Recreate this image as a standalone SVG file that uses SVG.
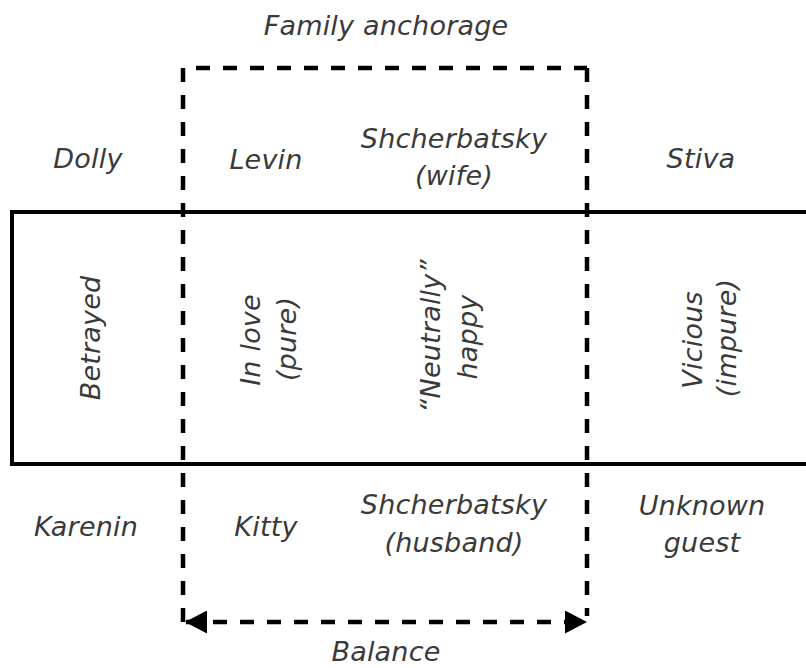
<svg xmlns="http://www.w3.org/2000/svg" width="806" height="668" viewBox="0 0 806 668">
<defs>
<style>
text{font-family:"DejaVu Sans","Liberation Sans",sans-serif;font-style:italic;font-size:27px;letter-spacing:0.2px;fill:#3a3a3a;text-anchor:middle}
.dash{fill:none;stroke:#000;stroke-width:4.5;stroke-dasharray:14 13}
.solid{fill:none;stroke:#000;stroke-width:4}
</style>
<marker id="ah" viewBox="0 0 22 23" refX="21" refY="11.5" markerWidth="22" markerHeight="23" markerUnits="userSpaceOnUse" orient="auto-start-reverse">
<path d="M0,0 L22,11.5 L0,23 Z" fill="#000"/>
</marker>
</defs>
<rect width="806" height="668" fill="#fff"/>
<g id="connectors">
<path id="band" class="solid" d="M810,212 H12 V464 H810"/>
<path id="anchorage-left" class="dash" d="M183,622 V68 H587"/>
<path id="anchorage-right" class="dash" d="M587,68 V616"/>
<line id="balance" class="dash" x1="186" y1="622" x2="586" y2="622" marker-start="url(#ah)" marker-end="url(#ah)"/>
</g>
<g id="title"><text x="386" y="35">Family anchorage</text></g>
<g id="dolly"><text x="88" y="168">Dolly</text></g>
<g id="levin"><text x="266" y="169">Levin</text></g>
<g id="shch-wife"><text x="454" y="148">Shcherbatsky</text><text x="454" y="185">(wife)</text></g>
<g id="stiva"><text x="701" y="168">Stiva</text></g>
<g id="betrayed"><text transform="translate(100,338) rotate(-90)">Betrayed</text></g>
<g id="inlove"><text transform="translate(260,340) rotate(-90)">In love</text><text transform="translate(296,339) rotate(-90)">(pure)</text></g>
<g id="neutrally"><text transform="translate(440,336) rotate(-90)">“Neutrally”</text><text transform="translate(477,337) rotate(-90)">happy</text></g>
<g id="vicious"><text transform="translate(702,340) rotate(-90)">Vicious</text><text transform="translate(736,338) rotate(-90)">(impure)</text></g>
<g id="karenin"><text x="86" y="536">Karenin</text></g>
<g id="kitty"><text x="266" y="536">Kitty</text></g>
<g id="shch-husband"><text x="454" y="514">Shcherbatsky</text><text x="454" y="552">(husband)</text></g>
<g id="guest"><text x="702" y="515">Unknown</text><text x="702" y="552">guest</text></g>
<g id="balance-label"><text x="386" y="661">Balance</text></g>
</svg>
